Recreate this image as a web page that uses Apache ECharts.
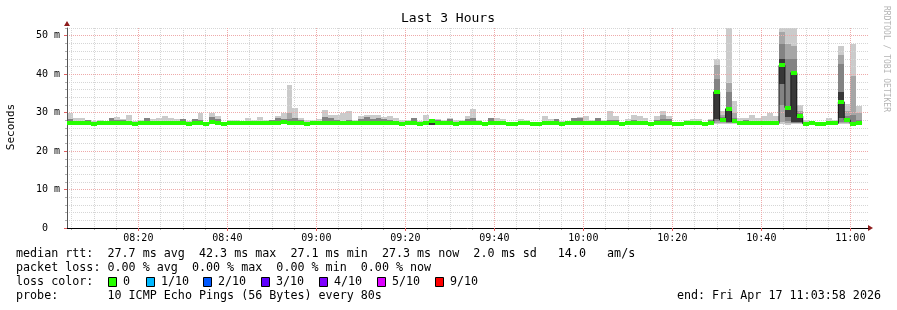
<!DOCTYPE html>
<html><head><meta charset="utf-8">
<script src="https://cdn.jsdelivr.net/npm/echarts@6/dist/echarts.min.js"></script>
<style>html,body{margin:0;padding:0;background:#fff}#c{width:897px;height:310px}</style>
</head><body><div id="c"></div>
<script>
// ---- time frame (minutes since midnight) ----
const startMinutes = 8 * 60 + 3 + 58 / 60;   // 08:03:58
const spanMinutes = 180;                      // Last 3 Hours
const stepMinutes = 80 / 60;                  // every 80 s
const majorTicks = [500, 520, 540, 560, 580, 600, 620, 640, 660];
const minorTicks = [485,490,495,505,510,515,525,530,535,545,550,555,565,570,575,585,590,595,605,610,615,625,630,635,645,650,655];
const yMajorTicks = [0, 10, 20, 30, 40, 50];
const yMinorTicks = [2,4,6,8,12,14,16,18,22,24,26,28,32,34,36,38,42,44,46,48,52];

// ---- median RTT per step (ms) ----
const median = [
27.2,27.3,27.3,27.2,27.1,27.2,27.4,27.2,27.3,27.2,
27.3,27.1,27.2,27.3,27.2,27.4,27.3,27.2,27.3,27.2,
27.1,27.2,27.3,27.1,27.5,27.4,27.1,27.2,27.3,27.2,
27.3,27.2,27.3,27.2,27.3,27.4,27.5,27.4,27.3,27.2,
27.1,27.2,27.2,27.4,27.3,27.2,27.3,27.4,27.2,27.3,
27.4,27.3,27.3,27.2,27.3,27.2,27.1,27.2,27.3,27.1,
27.3,27.8,27.2,27.3,27.2,27.1,27.2,27.3,27.4,27.2,
27.1,27.3,27.2,27.3,27.1,27.1,27.2,27.2,27.1,27.1,
27.3,27.2,27.3,27.1,27.2,27.4,27.4,27.3,27.2,27.3,
27.2,27.3,27.2,27.1,27.2,27.3,27.2,27.2,27.1,27.3,
27.4,27.4,27.1,27.1,27.2,27.3,27.2,27.1,27.3,35.4,
28.1,31.0,27.7,27.3,27.2,27.2,27.3,27.2,27.3,27.2,
42.3,31.3,40.4,29.1,27.1,27.2,27.1,27.1,27.2,27.2,
32.8,28.1,27.1,27.3];

// ---- smoke: outermost band (min .. max ping) ----
const smokeLo1 = [
27,27,27,27,27,27,27,27,27,27, 27,27,27,27,27,27,27,27,27,27,
27,27,27,27,27,27,27,27,27,27, 27,27,27,27,27,27,27,27,27,27,
27,27,27,27,27,27,27,27,27,27, 27,27,27,27,27,27,27,27,27,27,
27,27,27,27,27,27,27,27,27,27, 27,27,27,27,27,27,27,27,27,27,
27,27,27,27,27,27,27,27,27,27, 27,27,27,27,27,27,27,27,27,27,
27,27,27,27,27,27,27,27,27,27, 27,27,27,27,27,27,27,27,27,27,
27,26.9,27,27,27,27,27,27,27,27, 27,27,26.9,27];
const smokeHi1 = [
29.9,28.5,28.5,28.2,27.8,28.0,27.6,28.5,28.8,28.4,
29.5,27.8,28.0,28.7,28.4,28.6,29.2,28.7,28.4,28.3,
27.8,28.3,29.9,27.5,29.9,29.0,27.4,28.1,28.1,27.9,
28.6,28.1,28.8,28.0,28.2,29.0,29.9,37.3,31.2,28.6,
28.0,28.1,28.3,30.6,29.3,29.3,29.9,30.4,28.1,29.0,
29.5,29.3,29.3,28.8,29.0,28.7,28.2,28.0,28.6,27.7,
29.5,28.2,28.4,28.1,28.7,28.0,28.0,29.0,31.0,28.1,
27.5,28.6,28.6,28.4,27.5,27.5,28.4,28.1,27.5,27.4,
29.0,28.4,28.4,27.7,27.9,28.7,28.8,29.0,28.1,28.7,
28.0,30.3,29.1,27.5,28.4,29.5,29.2,28.6,27.4,29.2,
30.3,29.2,27.4,27.5,28.1,28.4,28.4,27.5,28.4,43.9,
30.3,53.5,32.9,28.7,28.5,29.5,28.5,29.0,29.8,29.0,
53.5,53.5,53.5,31.9,28.0,27.9,27.4,27.4,28.5,28.0,
47.4,32.3,47.8,31.7];

// ---- smoke: second band ----
const smokeLo2 = [
27.1,27.1,27.1,27.1,27.1,27.1,27.1,27.1,27.1,27.1, 27.1,27.1,27.1,27.1,27.1,27.1,27.1,27.1,27.1,27.1,
27.1,27.1,27.1,27.1,27.1,27.1,27.1,27.1,27.1,27.1, 27.1,27.1,27.1,27.1,27.1,27.1,27.1,27.1,27.1,27.1,
27.1,27.1,27.1,27.1,27.1,27.1,27.1,27.1,27.1,27.1, 27.1,27.1,27.1,27.1,27.1,27.1,27.1,27.1,27.1,27.1,
27.1,27.1,27.1,27.1,27.1,27.1,27.1,27.1,27.1,27.1, 27.1,27.1,27.1,27.1,27.1,27.1,27.1,27.1,27.1,27.1,
27.1,27.1,27.1,27.1,27.1,27.1,27.1,27.1,27.1,27.1, 27.1,27.1,27.1,27.1,27.1,27.1,27.1,27.1,27.1,27.1,
27.1,27.1,27.1,27.1,27.1,27.1,27.1,27.1,27.1,27.3, 27.3,27.2,27.2,27.1,27.1,27.1,27.1,27.1,27.1,27.1,
27.5,27.3,27.2,27.2,27.1,27.1,27.1,27.1,27.1,27.1, 27.2,27.2,27.0,27.0];
const smokeHi2 = [
28.3,27.9,27.7,28.2,27.5,27.6,27.5,28.5,28.1,28.1,
27.9,27.5,27.6,28.7,27.7,27.8,27.8,27.7,27.8,28.3,
27.5,28.3,28.0,27.4,28.8,28.4,27.2,27.6,27.7,27.5,
27.8,27.6,27.8,27.6,28.0,28.6,28.4,29.9,28.6,28.0,
27.6,27.6,27.7,28.8,28.6,28.1,27.9,28.1,27.6,28.4,
28.8,28.4,28.6,28.4,28.1,27.8,27.6,27.6,28.6,27.4,
27.9,28.0,28.1,27.6,28.4,27.5,27.5,28.4,28.6,27.8,
27.3,28.6,27.8,27.7,27.3,27.3,27.7,27.6,27.3,27.2,
27.9,27.8,28.4,27.4,27.5,28.7,28.7,27.9,27.7,28.7,
27.6,28.0,28.0,27.3,27.8,28.0,27.8,27.7,27.2,28.0,
29.5,28.4,27.2,27.3,27.6,27.7,27.7,27.3,28.0,42.4,
29.5,37.8,30.0,27.8,28.0,27.8,27.8,27.7,27.9,27.8,
50.9,47.8,47.4,30.5,27.6,27.5,27.2,27.2,27.6,27.5,
45.0,30.5,39.6,30.0];

// ---- smoke: third band ----
const smokeLo3 = [
27.1,27.1,27.1,27.1,27.1,27.1,27.1,27.1,27.1,27.1, 27.1,27.1,27.1,27.1,27.1,27.1,27.1,27.1,27.1,27.1,
27.1,27.1,27.1,27.1,27.1,27.1,27.1,27.1,27.1,27.1, 27.1,27.1,27.1,27.1,27.1,27.1,27.1,27.1,27.1,27.1,
27.1,27.1,27.1,27.1,27.1,27.1,27.1,27.1,27.1,27.1, 27.1,27.1,27.1,27.1,27.1,27.1,27.1,27.1,27.1,27.1,
27.1,27.1,27.1,27.1,27.1,27.1,27.1,27.1,27.1,27.1, 27.1,27.1,27.1,27.1,27.1,27.1,27.1,27.1,27.1,27.1,
27.1,27.1,27.1,27.1,27.1,27.1,27.1,27.1,27.1,27.1, 27.1,27.1,27.1,27.1,27.1,27.1,27.1,27.1,27.1,27.1,
27.1,27.1,27.1,27.1,27.1,27.1,27.1,27.1,27.1,27.8, 27.6,27.4,27.4,27.1,27.1,27.1,27.1,27.1,27.1,27.1,
31.9,27.8,27.4,27.4,27.1,27.1,27.1,27.1,27.1,27.1, 27.5,27.5,27.0,27.0];
const smokeHi3 = [
28.3,27.9,27.7,28.2,27.5,27.6,27.5,28.5,28.1,28.1,
27.9,27.5,27.6,28.7,27.7,27.8,27.8,27.7,27.8,28.3,
27.5,28.3,28.0,27.4,28.8,28.4,27.2,27.6,27.7,27.5,
27.8,27.6,27.8,27.6,28.0,28.6,28.4,28.4,28.6,28.0,
27.6,27.6,27.7,28.8,28.6,28.1,27.9,28.1,27.6,28.4,
28.8,28.4,28.6,28.4,28.1,27.8,27.6,27.6,28.6,27.4,
27.9,28.0,28.1,27.6,28.4,27.5,27.5,28.4,28.6,27.8,
27.3,28.6,27.8,27.7,27.3,27.3,27.7,27.6,27.3,27.2,
27.9,27.8,28.4,27.4,27.5,28.7,28.7,27.9,27.7,28.7,
27.6,28.0,28.0,27.3,27.8,28.0,27.8,27.7,27.2,28.0,
28.4,28.4,27.2,27.3,27.6,27.7,27.7,27.3,28.0,38.8,
28.8,35.3,28.6,27.8,28.0,27.8,27.8,27.7,27.9,27.8,
47.8,43.9,43.9,29.8,27.6,27.5,27.2,27.2,27.6,27.5,
42.7,29.0,29.3,28.0];

// ---- smoke: innermost (darkest) band ----
const smokeLo4 = [
27.2,27.3,27.3,27.2,27.1,27.2,27.4,27.2,27.3,27.2,
27.3,27.1,27.2,27.3,27.2,27.4,27.3,27.2,27.3,27.2,
27.1,27.2,27.3,27.1,27.5,27.4,27.1,27.2,27.3,27.2,
27.3,27.2,27.3,27.2,27.3,27.4,27.5,27.4,27.3,27.2,
27.1,27.2,27.2,27.4,27.3,27.2,27.3,27.4,27.2,27.3,
27.4,27.3,27.3,27.2,27.3,27.2,27.1,27.2,27.3,27.1,
27.3,26.9,27.2,27.3,27.2,27.1,27.2,27.3,27.4,27.2,
27.1,27.3,27.2,27.3,27.1,27.1,27.2,27.2,27.1,27.1,
27.3,27.2,27.3,27.1,27.2,27.4,27.4,27.3,27.2,27.3,
27.2,27.3,27.2,27.1,27.2,27.3,27.2,27.2,27.1,27.3,
27.4,27.4,27.1,27.1,27.2,27.3,27.2,27.1,27.3,28.3,
27.8,27.5,27.5,27.3,27.2,27.2,27.3,27.2,27.3,27.2,
37.5,28.8,27.5,27.5,27.1,27.2,27.1,27.1,27.2,27.2,
28.5,27.8,27.1,27.3];
const smokeHi4 = [
27.2,27.3,27.3,27.2,27.1,27.2,27.4,27.2,27.3,27.2,
27.3,27.1,27.2,27.3,27.2,27.4,27.3,27.2,27.3,27.2,
27.1,27.2,27.3,27.1,27.5,27.4,27.1,27.2,27.3,27.2,
27.3,27.2,27.3,27.2,27.3,27.4,27.5,27.4,27.3,27.2,
27.1,27.2,27.2,27.4,27.3,27.2,27.3,27.4,27.2,27.3,
27.4,27.3,27.3,27.2,27.3,27.2,27.1,27.2,27.3,27.1,
27.3,27.8,27.2,27.3,27.2,27.1,27.2,27.3,27.4,27.2,
27.1,27.3,27.2,27.3,27.1,27.1,27.2,27.2,27.1,27.1,
27.3,27.2,27.3,27.1,27.2,27.4,27.4,27.3,27.2,27.3,
27.2,27.3,27.2,27.1,27.2,27.3,27.2,27.2,27.1,27.3,
27.4,27.4,27.1,27.1,27.2,27.3,27.2,27.1,27.3,35.6,
28.3,31.2,27.9,27.3,27.2,27.2,27.3,27.2,27.3,27.2,
43.9,31.5,40.6,29.3,27.1,27.2,27.1,27.1,27.2,27.2,
35.3,28.3,27.1,27.3];

// ---- legend ----
const legendRtt  = 'median rtt:  27.7 ms avg  42.3 ms max  27.1 ms min  27.3 ms now  2.0 ms sd   14.0   am/s';
const legendLoss = 'packet loss: 0.00 % avg  0.00 % max  0.00 % min  0.00 % now';
const legendProbe = 'probe:       10 ICMP Echo Pings (56 Bytes) every 80s';
const legendEnd = 'end: Fri Apr 17 11:03:58 2026';
const lossLabels = ['0', '1/10', '2/10', '3/10', '4/10', '5/10', '9/10'];
const lossColors = ['#26ff00', '#00b8ff', '#0059ff', '#5e00ff', '#7e00ff', '#dd00ff', '#ff0000'];
const lossBoxX = [108, 146, 203, 261, 319, 377, 435];

const MONO = '"DejaVu Sans Mono", monospace';
const chart = echarts.init(document.getElementById('c'), null, { renderer: 'canvas' });

function stepData(lows, highs) {
  return lows.map((l, i) => [startMinutes + i * stepMinutes, startMinutes + (i + 1) * stepMinutes, l, highs[i]]);
}
function bandSeries(lows, highs, color, z) {
  return {
    type: 'custom', z, silent: true, clip: true, animation: false,
    data: stepData(lows, highs),
    encode: { x: [0, 1], y: [2, 3] },
    renderItem(params, api) {
      const a = api.coord([api.value(0), api.value(3)]);
      const b = api.coord([api.value(1), api.value(2)]);
      const x0 = Math.round(a[0]), x1 = Math.round(b[0]);
      const y0 = Math.round(a[1]), y1 = Math.round(b[1]);
      return { type: 'rect', shape: { x: x0, y: y0, width: x1 - x0, height: y1 - y0 }, style: { fill: color } };
    }
  };
}
const medianLine = median.map((m, i) => [startMinutes + i * stepMinutes, m]);
medianLine.push([startMinutes + median.length * stepMinutes, median[median.length - 1]]);

function fmtTime(v) {
  const h = Math.floor(v / 60), m = Math.round(v % 60);
  return String(h).padStart(2, '0') + ':' + String(m).padStart(2, '0');
}

const graphics = [
  { type: 'text', x: 448, y: 19, style: { text: 'Last 3 Hours', font: '13px ' + MONO, fill: '#000', align: 'center', verticalAlign: 'middle', textAlign: 'center', textVerticalAlign: 'middle' } },
  { type: 'text', x: 11, y: 127, rotation: Math.PI / 2, style: { text: 'Seconds', font: '11px ' + MONO, fill: '#000', align: 'center', verticalAlign: 'middle', textAlign: 'center', textVerticalAlign: 'middle' } },
  { type: 'text', x: 886, y: 59, rotation: -Math.PI / 2, style: { text: 'RRDTOOL / TOBI OETIKER', font: '8px ' + MONO, fill: '#b4b4b4', align: 'center', verticalAlign: 'middle', textAlign: 'center', textVerticalAlign: 'middle' } },
  { type: 'polygon', shape: { points: [[64, 26], [70, 26], [67, 21]] }, style: { fill: '#8e1c1c' } },
  { type: 'polygon', shape: { points: [[868, 225], [868, 231], [873, 228]] }, style: { fill: '#8e1c1c' } }
];
const legendRows = [[legendRtt, 254], [legendLoss, 268], ['loss color:', 282], [legendProbe, 296]];
legendRows.forEach(([t, y]) => graphics.push({ type: 'text', x: 16, y, style: { text: t, font: '11.7px ' + MONO, fill: '#000', align: 'left', verticalAlign: 'middle', textAlign: 'left', textVerticalAlign: 'middle' } }));
graphics.push({ type: 'text', x: 881, y: 296, style: { text: legendEnd, font: '11.7px ' + MONO, fill: '#000', align: 'right', verticalAlign: 'middle', textAlign: 'right', textVerticalAlign: 'middle' } });
lossLabels.forEach((lab, i) => {
  graphics.push({ type: 'rect', shape: { x: lossBoxX[i] + 0.5, y: 277.5, width: 8, height: 9 }, style: { fill: lossColors[i], stroke: '#000', lineWidth: 1 } });
  graphics.push({ type: 'text', x: lossBoxX[i] + 15, y: 282, style: { text: lab, font: '11.7px ' + MONO, fill: '#000', align: 'left', verticalAlign: 'middle', textAlign: 'left', textVerticalAlign: 'middle' } });
});

const majorGrid = { show: true, lineStyle: { color: '#eeaaaa', width: 1, type: [1, 1] } };
const minorGrid = { show: true, lineStyle: { color: '#d6d6d6', width: 1, type: [1, 1] } };

chart.setOption({
  animation: false,
  backgroundColor: '#ffffff',
  grid: { left: 67, right: 29, top: 28, bottom: 82, containLabel: false },
  xAxis: [
    { type: 'value', min: startMinutes, max: startMinutes + spanMinutes, position: 'bottom', z: 3,
      axisLine: { show: true, lineStyle: { color: '#000', width: 1 } },
      axisTick: { show: true, customValues: majorTicks, length: 3, lineStyle: { color: '#e06060' } },
      axisLabel: { show: true, customValues: majorTicks, formatter: fmtTime, margin: 5, fontFamily: MONO, fontSize: 10, color: '#000' },
      splitLine: majorGrid },
    { type: 'value', min: startMinutes, max: startMinutes + spanMinutes, position: 'bottom', z: 2,
      axisLine: { show: false },
      axisTick: { show: true, customValues: minorTicks, length: 2, lineStyle: { color: '#b0b0b0' } },
      axisLabel: { show: false },
      splitLine: minorGrid }
  ],
  yAxis: [
    { type: 'value', min: 0, max: 52, position: 'left', z: 3,
      axisLine: { show: true, lineStyle: { color: '#555', width: 1 } },
      axisTick: { show: true, customValues: yMajorTicks, length: 3, lineStyle: { color: '#e06060' } },
      axisLabel: { show: true, customValues: yMajorTicks, margin: 7, fontFamily: MONO, fontSize: 10, color: '#000',
        formatter: v => (v === 0 ? '0  ' : v + ' m') },
      splitLine: majorGrid },
    { type: 'value', min: 0, max: 52, position: 'left', z: 2,
      axisLine: { show: false },
      axisTick: { show: true, customValues: yMinorTicks, length: 2, lineStyle: { color: '#b0b0b0' } },
      axisLabel: { show: false },
      splitLine: minorGrid }
  ],
  series: [
    bandSeries(smokeLo1, smokeHi1, '#cbcbcb', 1),
    bandSeries(smokeLo2, smokeHi2, '#a6a6a6', 2),
    bandSeries(smokeLo3, smokeHi3, '#838383', 3),
    bandSeries(smokeLo4, smokeHi4, '#383838', 4),
    { type: 'line', step: 'end', data: medianLine, showSymbol: false, symbol: 'none', silent: true, z: 5,
      lineStyle: { color: '#1a1a1a', width: 1 }, animation: false },
    { type: 'custom', z: 6, silent: true, clip: true, animation: false,
      data: median.map((m, i) => [startMinutes + i * stepMinutes, startMinutes + (i + 1) * stepMinutes, m]),
      encode: { x: [0, 1], y: 2 },
      renderItem(params, api) {
        const a = api.coord([api.value(0), api.value(2)]);
        const b = api.coord([api.value(1), api.value(2)]);
        const x0 = Math.round(a[0]), x1 = Math.round(b[0]);
        const y0 = Math.round(a[1] - 2);
        return { type: 'rect', shape: { x: x0, y: y0, width: x1 - x0, height: 4 }, style: { fill: '#26ff00' } };
      } }
  ],
  graphic: graphics
});
</script>
</body></html>
